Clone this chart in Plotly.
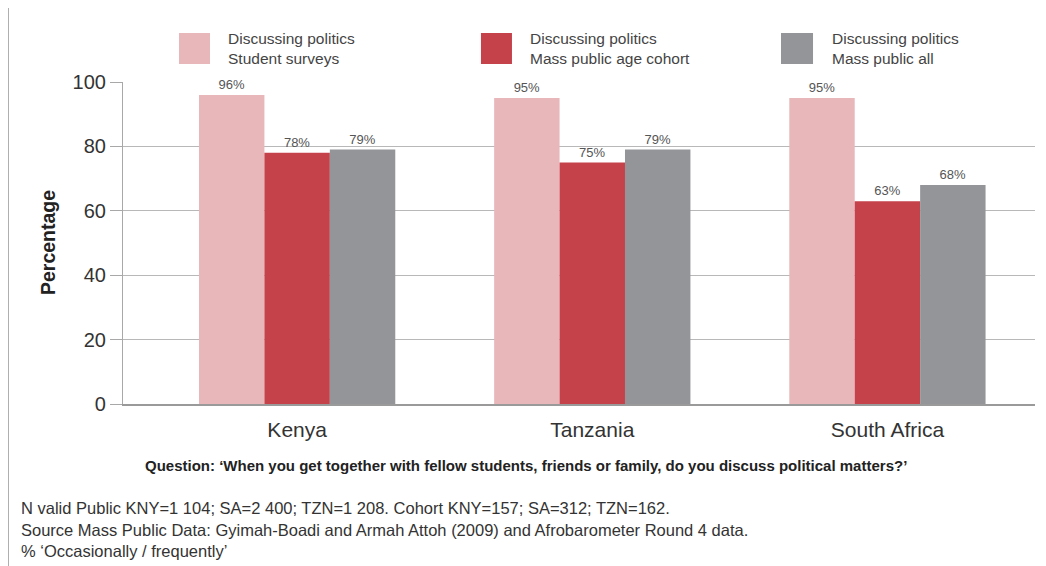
import plotly.graph_objects as go

categories = ["Kenya", "Tanzania", "South Africa"]
series_names = ["Discussing politics<br>Student surveys",
                "Discussing politics<br>Mass public age cohort",
                "Discussing politics<br>Mass public all"]
student_surveys = [96, 95, 95]
age_cohort = [78, 75, 63]
mass_public_all = [79, 79, 68]
y_ticks = [0, 20, 40, 60, 80, 100]

colors = ["#E8B7BA", "#C5424B", "#939598"]
FONT = "Liberation Sans"

fig = go.Figure()
for name, vals, col in zip(series_names, [student_surveys, age_cohort, mass_public_all], colors):
    fig.add_trace(go.Bar(
        x=categories, y=vals, name=name, marker=dict(color=col, line=dict(width=0)),
        text=[f"{v}%" for v in vals], textposition="outside",
        textfont=dict(family=FONT, size=13, color="#555555"),
        cliponaxis=False, showlegend=False,
    ))

fig.update_layout(
    width=1046, height=566,
    margin=dict(l=115, r=19, t=74, b=170),
    paper_bgcolor="white", plot_bgcolor="white",
    barmode="group", bargap=0.335, bargroupgap=0,
    font=dict(family=FONT, color="#333333"),
    xaxis=dict(type="category", range=[-0.59, 2.50], showgrid=False,
               showline=True, linecolor="#9a9a9a", linewidth=1.5,
               ticks="", tickfont=dict(size=21, color="#333333"),
               ticklabelstandoff=6, zeroline=False),
    yaxis=dict(range=[0, 100], tickvals=y_ticks, showgrid=True,
               gridcolor="#b8b8b8", gridwidth=1,
               showline=True, linecolor="#a8a8a8", linewidth=1.2,
               ticks="outside", ticklen=12, tickcolor="#a8a8a8", tickwidth=1.2,
               tickfont=dict(size=20, color="#333333"), zeroline=False),
)

shapes = []
# y axis extension below zero
shapes.append(dict(type="line", xref="paper", x0=0, x1=0, yref="y", ysizemode="pixel",
                   yanchor=0, y0=0, y1=-10, line=dict(color="#a8a8a8", width=1.2)))
# category separators
for sep in [0.5, 1.5]:
    shapes.append(dict(type="line", xref="x", x0=sep, x1=sep, yref="y", ysizemode="pixel",
                       yanchor=0, y0=0, y1=-10, line=dict(color="#b0b0b0", width=1.5)))
# frame (top and left)
shapes.append(dict(type="line", xref="paper", yref="paper", x0=-0.126, x1=1.03, y0=1.236, y1=1.236,
                   line=dict(color="#a0a0a0", width=1.5)))
shapes.append(dict(type="line", xref="paper", yref="paper", x0=-0.126, x1=-0.126, y0=1.236, y1=-0.53,
                   line=dict(color="#a0a0a0", width=1.5)))

# manual legend
legend_box_x = [(0.0614, 0.0954), (0.3925, 0.4265), (0.7215, 0.7566)]
legend_text_x = [0.1129, 0.4441, 0.7752]
annotations = []
for (bx0, bx1), tx, col, name in zip(legend_box_x, legend_text_x, colors, series_names):
    shapes.append(dict(type="rect", xref="paper", yref="paper", x0=bx0, x1=bx1, y0=1.0559, y1=1.1522,
                       fillcolor=col, line=dict(width=0)))
    annotations.append(dict(xref="paper", yref="paper", x=tx, y=1.104, text=name, showarrow=False,
                            xanchor="left", yanchor="middle", align="left",
                            font=dict(family=FONT, size=15.5, color="#444444")))

annotations.append(dict(xref="paper", yref="paper", x=-0.0822, y=0.5, text="<b>Percentage</b>",
                        textangle=-90, showarrow=False, xanchor="center", yanchor="middle",
                        font=dict(family=FONT, size=19.5, color="#222222")))
annotations.append(dict(xref="paper", yref="paper", x=0.442, y=-0.1925,
                        text="<b>Question: ‘When you get together with fellow students, friends or family, do you discuss political matters?’</b>",
                        showarrow=False, xanchor="center", yanchor="middle",
                        font=dict(family=FONT, size=15, color="#222222")))
foot_lines = ["N valid Public KNY=1 104; SA=2 400; TZN=1 208. Cohort KNY=157; SA=312; TZN=162.",
              "Source Mass Public Data: Gyimah-Boadi and Armah Attoh (2009) and Afrobarometer Round 4 data.",
              "% ‘Occasionally / frequently’"]
for line, yp in zip(foot_lines, [-0.323, -0.391, -0.4565]):
    annotations.append(dict(xref="paper", yref="paper", x=-0.114, y=yp, text=line, showarrow=False,
                            xanchor="left", yanchor="middle", align="left",
                            font=dict(family=FONT, size=16.5, color="#333333")))

fig.update_layout(shapes=shapes, annotations=annotations)
fig.write_html("out.html")
